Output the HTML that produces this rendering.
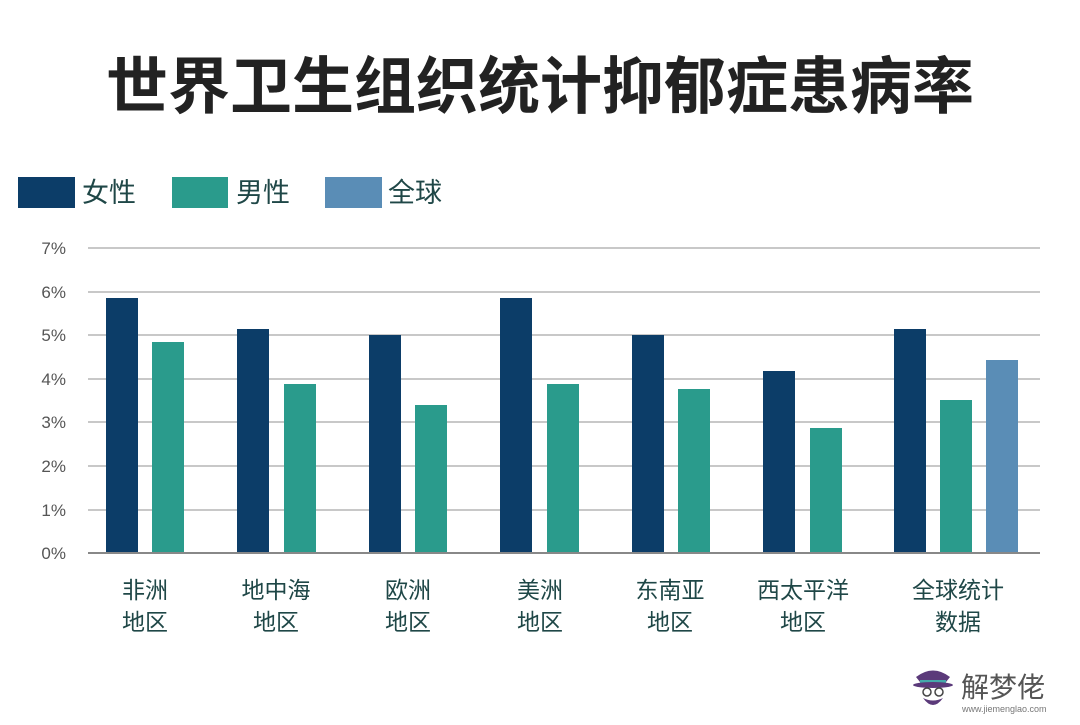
<!DOCTYPE html>
<html><head><meta charset="utf-8"><style>
body{margin:0;width:1080px;height:720px;background:#fff;overflow:hidden;font-family:"Liberation Sans","Noto Sans CJK SC",sans-serif}
</style></head><body>
<svg width="1080" height="720" xmlns="http://www.w3.org/2000/svg" font-family="Liberation Sans, Noto Sans CJK SC, sans-serif">
<text x="540" y="108" text-anchor="middle" font-size="62" font-weight="bold" fill="#222">世界卫生组织统计抑郁症患病率</text>
<rect x="18" y="177" width="57" height="31" fill="#0c3d68"/>
<text x="82" y="202" font-size="27" fill="#1f4747">女性</text>
<rect x="172" y="177" width="56" height="31" fill="#2a9b8c"/>
<text x="236" y="202" font-size="27" fill="#1f4747">男性</text>
<rect x="325" y="177" width="57" height="31" fill="#5a8db6"/>
<text x="388" y="202" font-size="27" fill="#1f4747">全球</text>
<g stroke="#c8c8c8" stroke-width="2">
<line x1="88" x2="1040" y1="248" y2="248"/><line x1="88" x2="1040" y1="292" y2="292"/>
<line x1="88" x2="1040" y1="335" y2="335"/><line x1="88" x2="1040" y1="379" y2="379"/>
<line x1="88" x2="1040" y1="422" y2="422"/><line x1="88" x2="1040" y1="466" y2="466"/>
<line x1="88" x2="1040" y1="510" y2="510"/>
</g>
<g font-size="17" fill="#555" text-anchor="end">
<text x="66" y="254">7%</text><text x="66" y="298">6%</text><text x="66" y="341">5%</text>
<text x="66" y="385">4%</text><text x="66" y="428">3%</text><text x="66" y="472">2%</text>
<text x="66" y="516">1%</text><text x="66" y="559">0%</text>
</g>
<g fill="#0c3d68">
<rect x="106" y="298" width="32" height="255"/><rect x="237" y="329" width="32" height="224"/>
<rect x="369" y="335" width="32" height="218"/><rect x="500" y="298" width="32" height="255"/>
<rect x="632" y="335" width="32" height="218"/><rect x="763" y="371" width="32" height="182"/>
<rect x="894" y="329" width="32" height="224"/>
</g>
<g fill="#2a9b8c">
<rect x="152" y="342" width="32" height="211"/><rect x="284" y="384" width="32" height="169"/>
<rect x="415" y="405" width="32" height="148"/><rect x="547" y="384" width="32" height="169"/>
<rect x="678" y="389" width="32" height="164"/><rect x="810" y="428" width="32" height="125"/>
<rect x="940" y="400" width="32" height="153"/>
</g>
<rect x="986" y="360" width="32" height="193" fill="#5a8db6"/>
<line x1="88" x2="1040" y1="553" y2="553" stroke="#888" stroke-width="2"/>
<g font-size="23" fill="#1f4747" text-anchor="middle">
<text x="145" y="598">非洲</text><text x="145" y="630">地区</text>
<text x="276" y="598">地中海</text><text x="276" y="630">地区</text>
<text x="408" y="598">欧洲</text><text x="408" y="630">地区</text>
<text x="540" y="598">美洲</text><text x="540" y="630">地区</text>
<text x="670" y="598">东南亚</text><text x="670" y="630">地区</text>
<text x="803" y="598">西太平洋</text><text x="803" y="630">地区</text>
<text x="958" y="598">全球统计</text><text x="958" y="630">数据</text>
</g>
<g>
<path d="M916 677 Q933 664 950 677 L946 682 L920 682 Z" fill="#5b3a7a"/>
<rect x="920" y="680" width="26" height="4" fill="#4aa"/>
<ellipse cx="933" cy="685" rx="20" ry="3" fill="#5b3a7a"/>
<path d="M923 698 Q933 712 943 698 Q933 703 923 698Z" fill="#5b3a7a"/>
<circle cx="927" cy="692" r="4" fill="none" stroke="#444" stroke-width="1.5"/>
<circle cx="939" cy="692" r="4" fill="none" stroke="#444" stroke-width="1.5"/>
<text x="961" y="697" font-size="28" fill="#555">解梦佬</text>
<text x="962" y="712" font-size="9" fill="#777">www.jiemenglao.com</text>
</g>
</svg>
</body></html>
